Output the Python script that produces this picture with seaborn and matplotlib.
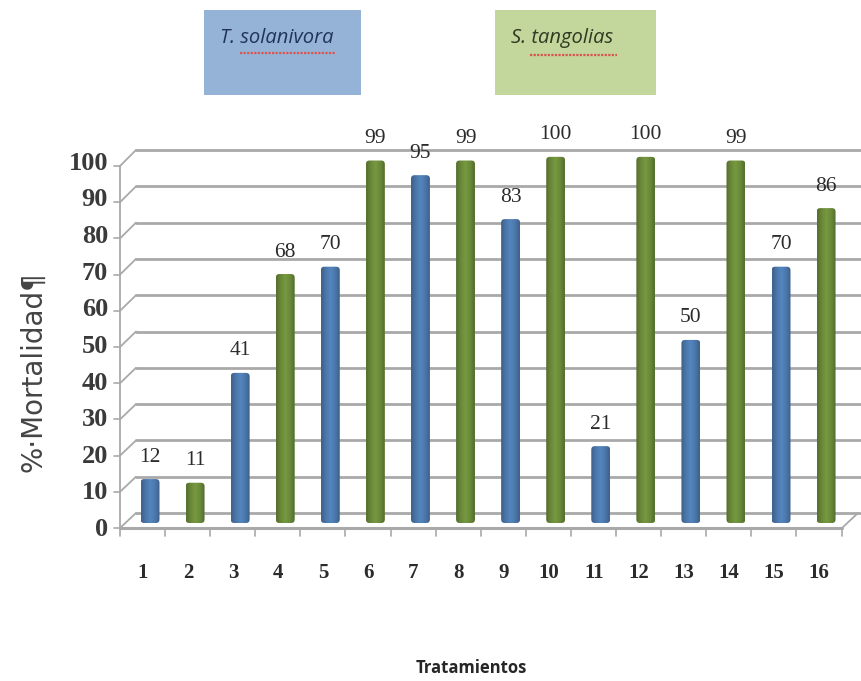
import numpy as np
import pandas as pd
import matplotlib
matplotlib.use("Agg")
import matplotlib.pyplot as plt
from matplotlib.patches import Rectangle, FancyBboxPatch
from matplotlib.transforms import ScaledTranslation
import seaborn as sns

tratamientos = ["1", "2", "3", "4", "5", "6", "7", "8", "9", "10", "11", "12", "13", "14", "15", "16"]
mortalidad = [12, 11, 41, 68, 70, 99, 95, 99, 83, 100, 21, 100, 50, 99, 70, 86]
especie = ["T. solanivora", "S. tangolias", "T. solanivora", "S. tangolias",
           "T. solanivora", "S. tangolias", "T. solanivora", "S. tangolias",
           "T. solanivora", "S. tangolias", "T. solanivora", "S. tangolias",
           "T. solanivora", "S. tangolias", "T. solanivora", "S. tangolias"]
y_ticks = [0, 10, 20, 30, 40, 50, 60, 70, 80, 90, 100]
colores = {"T. solanivora": "#3f7cc4", "S. tangolias": "#729e2e"}

W, H = 862, 681
sns.set_theme(style="white")
fig = plt.figure(figsize=(W / 100, H / 100), dpi=100)

# background layer in pixels: the fake 3D walls and the two label boxes
bg = fig.add_axes([0, 0, 1, 1], zorder=0)
bg.set_xlim(0, W)
bg.set_ylim(H, 0)
bg.axis("off")

grid_c = "#a9a9a9"
for v in y_ticks:
    y_front = 528 - 3.62 * v
    y_back = 513 - 3.63 * v
    bg.plot([120, 136], [y_front, y_back], color=grid_c, lw=1.3)
    bg.plot([136, W], [y_back, y_back], color=grid_c, lw=2)
    bg.plot([114, 120], [y_front, y_front], color=grid_c, lw=1.2)
bg.plot([120, 120], [528, 528 - 362], color=grid_c, lw=1.3)
bg.plot([120, 842], [528, 528], color=grid_c, lw=2.2)
bg.plot([842, 858], [528, 513], color=grid_c, lw=1.3)
for i in range(17):
    bg.plot([120 + 45.1 * i] * 2, [528, 536], color=grid_c, lw=1.2)

bg.add_patch(Rectangle((204, 10), 157, 85, fc="#95b3d7", ec="none"))
bg.add_patch(Rectangle((495, 10), 161, 85, fc="#c3d69b", ec="none"))
bg.text(277, 38, "T. solanivora", style="italic", family="Open Sans", fontsize=14.5,
        color="#1f3557", ha="center", va="center")
bg.text(562, 38, "S. tangolias", style="italic", family="Open Sans", fontsize=14.5,
        color="#2f3a22", ha="center", va="center")
bg.plot([240, 335], [53, 53], color="#d9534f", lw=1.6, ls=(0, (1, 0.6)))
bg.plot([530, 617], [55, 55], color="#d9534f", lw=1.6, ls=(0, (1, 0.6)))

# main axes, placed so that bar values land on the reference pixels
px_bottom, px_top = 530, 140
ax = fig.add_axes([127.5 / W, 1 - px_bottom / H, (W - 127.5) / W, (px_bottom - px_top) / H], zorder=1)
ax.patch.set_alpha(0)

df = pd.DataFrame({"tratamiento": tratamientos, "mortalidad": mortalidad, "especie": especie})
sns.barplot(data=df, x="tratamiento", y="mortalidad", hue="especie", palette=colores,
            dodge=False, width=0.42, legend=False, ax=ax)
x_lim = (-0.5, (W - 127.5) / 45.07 - 0.5)
y_lim = (-1.91, 104.6)
ax.set_xlim(*x_lim)
ax.set_ylim(*y_lim)

# cylinder shading taken from each bar's own box, with rounded corners
shade = np.array([0.8, 0.92, 1.0, 1.06, 1.0, 0.93, 0.8])
for c in ax.containers:
    for p in c:
        rgb = np.array(matplotlib.colors.to_rgb(p.get_facecolor()))
        img = np.clip(shade[:, None] * rgb, 0, 1)[None, :, :]
        x0, y0, w, h = p.get_bbox().bounds
        p.set_alpha(0)
        im = ax.imshow(img, extent=(x0, x0 + w, y0, y0 + h), aspect="auto",
                       interpolation="bilinear", zorder=3)
        clip = FancyBboxPatch((x0, y0), w, h, boxstyle="round,pad=0,rounding_size=0.08",
                              mutation_aspect=12.3, transform=ax.transData)
        im.set_clip_path(clip)
    ax.bar_label(c, fmt="%d", padding=9, family="Liberation Serif", fontsize=15.5,
                 color="#2b2b2b", zorder=5)
ax.set_xlim(*x_lim)
ax.set_ylim(*y_lim)

sns.despine(ax=ax, left=True, bottom=True)
ax.set_xlabel("")
ax.set_ylabel("")
ax.set_yticks(y_ticks)
ax.tick_params(axis="both", length=0)
ax.tick_params(axis="x", pad=24)
ax.tick_params(axis="y", pad=14)
for t in ax.get_xticklabels():
    t.set(family="Liberation Serif", fontsize=15, fontweight="bold", color="#2b2b2b")
    t.set_transform(t.get_transform() + ScaledTranslation(-7 / 100, 0, fig.dpi_scale_trans))
for t in ax.get_yticklabels():
    t.set(family="Liberation Serif", fontsize=19, fontweight="bold", color="#3a3a3a")
    t.set_transform(t.get_transform() + ScaledTranslation(0, -4 / 100, fig.dpi_scale_trans))

fig.text(33 / W, 1 - 372 / H, "%·Mortalidad¶", rotation=90, family="DejaVu Sans", fontsize=20,
         color="#444444", ha="center", va="center")
fig.text(471 / W, 1 - 668 / H, "Tratamientos", family="Open Sans", fontweight="bold", fontsize=12,
         color="#262626", ha="center", va="center")

fig.savefig("out.png", dpi=100)
